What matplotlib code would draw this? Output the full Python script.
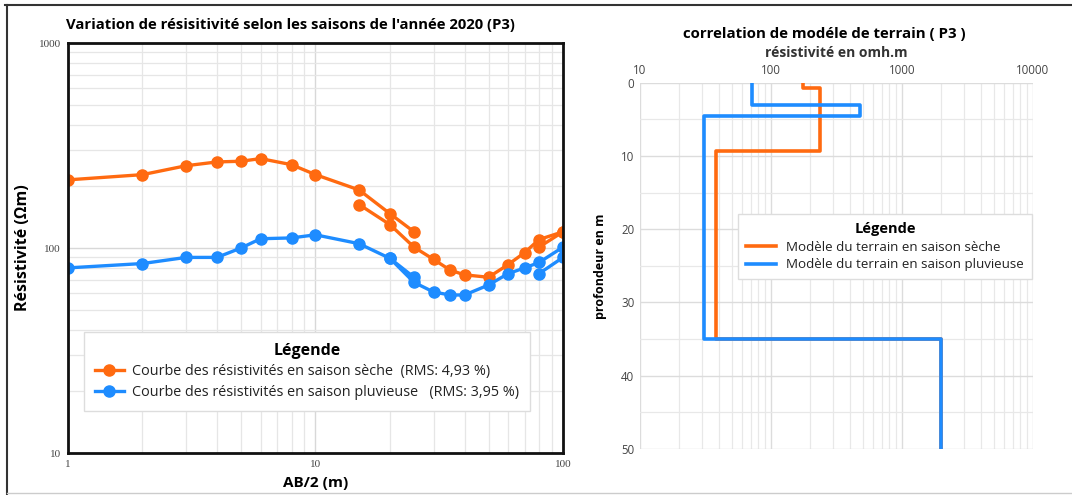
import numpy as np
import matplotlib.pyplot as plt
from matplotlib.ticker import LogLocator, NullFormatter, MultipleLocator, FixedLocator, FixedFormatter

ORANGE = '#ff6a10'
BLUE = '#1e8cff'

# Sondage électrique (AB/2 en m, résistivité apparente en ohm.m), par segments
ab2_s1 = [1, 2, 3, 4, 5, 6, 8, 10, 15, 20, 25]
seche_s1 = [215, 228, 252, 263, 265, 273, 255, 228, 192, 147, 120]
ab2_s2 = [15, 20, 25, 30, 35, 40, 50, 60, 70, 80, 100]
seche_s2 = [163, 130, 101, 88, 78, 74, 72, 83, 95, 110, 120]
ab2_s3 = [80, 100]
seche_s3 = [101, 120]

pluie_s1 = [80, 84, 90, 90, 100, 111, 112, 116, 105, 89, 72]
ab2_p2 = [20, 25, 30, 35, 40, 50, 60, 70, 80, 100]
pluie_s2 = [89, 68, 61, 59, 59, 66, 75, 80, 85, 101]
pluie_s3 = [75, 90]

# Modèles de terrain (résistivité, profondeur)
seche_rho = [175, 175, 237, 237, 38, 38, 2000, 2000]
seche_z = [0, 0.7, 0.7, 9.3, 9.3, 35, 35, 50]
pluie_rho = [72, 72, 480, 480, 31, 31, 2000, 2000]
pluie_z = [0, 3.0, 3.0, 4.6, 4.6, 35, 35, 50]

plt.rcParams['font.family'] = ['Open Sans', 'DejaVu Sans']

fig = plt.figure(figsize=(10.72, 4.95), dpi=100)

# cadre extérieur
fig.add_artist(plt.Line2D([0.005, 1.0], [0.99, 0.99], color='#333333', lw=1.5))
fig.add_artist(plt.Line2D([0.0065, 0.0065], [0.0, 0.99], color='#333333', lw=1.5))
fig.add_artist(plt.Line2D([0.0065, 1.0], [0.004, 0.004], color='#cccccc', lw=1.0))

# ---- graphique de gauche ----
ax = fig.add_axes([0.0634, 0.0848, 0.4618, 0.8283])
ax.set_xscale('log')
ax.set_yscale('log')
ax.set_xlim(1, 100)
ax.set_ylim(10, 1000)

mk = dict(marker='o', markersize=8, lw=2.4)
ax.plot(ab2_s1, seche_s1, color=ORANGE, **mk)
ax.plot(ab2_s2, seche_s2, color=ORANGE, **mk)
ax.plot(ab2_s3, seche_s3, color=ORANGE, **mk)
ax.plot(ab2_s1, pluie_s1, color=BLUE, **mk)
ax.plot(ab2_p2, pluie_s2, color=BLUE, **mk)
ax.plot(ab2_s3, pluie_s3, color=BLUE, **mk)

ax.xaxis.set_major_locator(FixedLocator([1, 10, 100]))
ax.xaxis.set_major_formatter(FixedFormatter(['1', '10', '100']))
ax.yaxis.set_major_locator(FixedLocator([10, 100, 1000]))
ax.yaxis.set_major_formatter(FixedFormatter(['10', '100', '1000']))
ax.xaxis.set_minor_locator(LogLocator(base=10, subs=np.arange(2, 10)))
ax.yaxis.set_minor_locator(LogLocator(base=10, subs=np.arange(2, 10)))
ax.xaxis.set_minor_formatter(NullFormatter())
ax.yaxis.set_minor_formatter(NullFormatter())
ax.grid(which='major', color='#d8d8d8', lw=1.0)
ax.grid(which='minor', color='#e6e6e6', lw=0.9)
ax.set_axisbelow(True)
for s in ax.spines.values():
    s.set_linewidth(2.0)
    s.set_color('#111111')
ax.tick_params(which='both', length=0)
ax.tick_params(which='major', labelsize=8, colors='#444444', pad=5)
for lab in ax.get_xticklabels() + ax.get_yticklabels():
    lab.set_family('Liberation Serif')

ax.set_title("Variation de résisitivité selon les saisons de l'année 2020 (P3)",
             fontsize=10.7, fontweight='bold', pad=10, x=0.449)
ax.set_xlabel('AB/2 (m)', fontsize=11, fontweight='bold', labelpad=5)
ax.set_ylabel('Résistivité (Ωm)', fontsize=11.5, fontweight='bold')
ax.yaxis.set_label_coords(-0.075, 0.5)

h1, = ax.plot([], [], color=ORANGE, **mk)
h2, = ax.plot([], [], color=BLUE, **mk)
leg = ax.legend([h1, h2],
                ['Courbe des résistivités en saison sèche  (RMS: 4,93 %)',
                 'Courbe des résistivités en saison pluvieuse   (RMS: 3,95 %)'],
                title='Légende', loc='lower left', bbox_to_anchor=(0.018, 0.085),
                fontsize=10.4, title_fontproperties={'size': 11.5, 'weight': 'bold'},
                frameon=True, fancybox=False, edgecolor='#dddddd',
                framealpha=1, handlelength=2.0, borderpad=0.75, labelspacing=0.4,
                handletextpad=0.6)
leg.get_frame().set_linewidth(1.0)
for t in leg.get_texts():
    t.set_color('#222222')

# ---- graphique de droite ----
ax2 = fig.add_axes([0.597, 0.093, 0.3666, 0.740])
ax2.set_xscale('log')
ax2.set_xlim(10, 10000)
ax2.set_ylim(50, 0)
ax2.plot(seche_rho, seche_z, color=ORANGE, lw=2.6, label='Modèle du terrain en saison sèche')
ax2.plot(pluie_rho, pluie_z, color=BLUE, lw=2.6, label='Modèle du terrain en saison pluvieuse')

ax2.xaxis.set_major_locator(FixedLocator([10, 100, 1000, 10000]))
ax2.xaxis.set_major_formatter(FixedFormatter(['10', '100', '1000', '10000']))
ax2.xaxis.set_minor_locator(LogLocator(base=10, subs=np.arange(2, 10)))
ax2.xaxis.set_minor_formatter(NullFormatter())
ax2.yaxis.set_major_locator(MultipleLocator(10))
ax2.yaxis.set_minor_locator(MultipleLocator(5))
ax2.xaxis.tick_top()
ax2.xaxis.set_label_position('top')
ax2.grid(which='major', color='#dcdcdc', lw=1.0)
ax2.grid(which='minor', color='#e8e8e8', lw=0.9)
ax2.set_axisbelow(True)
for s in ax2.spines.values():
    s.set_visible(False)
ax2.tick_params(which='both', length=0)
ax2.tick_params(which='major', labelsize=8.3, colors='#444444', pad=4)

ax2.set_xlabel('résistivité en omh.m', fontsize=10, fontweight='bold', color='#333333', labelpad=5)
ax2.set_ylabel('profondeur en m', fontsize=9, fontweight='bold', labelpad=10)
ax2.set_title('correlation de modéle de terrain ( P3 )', fontsize=10.8, fontweight='bold',
              pad=6, x=0.47)

leg2 = ax2.legend(title='Légende', loc='upper right', bbox_to_anchor=(1.015, 0.66),
                  fontsize=9.6, title_fontproperties={'size': 10.5, 'weight': 'bold'},
                  frameon=True, fancybox=False, edgecolor='#dddddd', framealpha=1,
                  handlelength=2.2, borderpad=0.6, labelspacing=0.35)
leg2.get_frame().set_linewidth(1.0)
for t in leg2.get_texts():
    t.set_color('#222222')

fig.savefig('out.png', dpi=100)
